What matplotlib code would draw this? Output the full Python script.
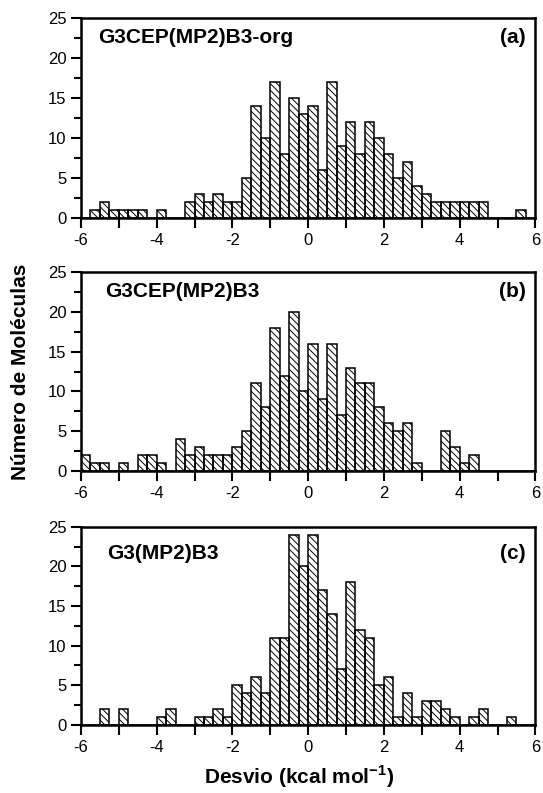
import numpy as np
import matplotlib
matplotlib.use('Agg')
import matplotlib.pyplot as plt
from matplotlib.ticker import MultipleLocator

plt.rcParams['font.family'] = ['Liberation Sans', 'DejaVu Sans']
plt.rcParams['hatch.linewidth'] = 0.7
plt.rcParams['axes.unicode_minus'] = False
plt.rcParams['mathtext.fontset'] = 'custom'
plt.rcParams['mathtext.rm'] = 'Liberation Sans'
plt.rcParams['mathtext.bf'] = 'Liberation Sans:bold'

# histogram bins: width 0.25 from -6 to 6
bin_edges = np.arange(-6, 6.001, 0.25)

counts_a = [0, 1, 2, 1, 1, 1, 1, 0, 1, 0, 0, 2, 3, 2, 3, 2, 2, 5, 14, 10, 17, 8, 15, 13,
            14, 6, 17, 9, 12, 8, 12, 10, 8, 5, 7, 4, 3, 2, 2, 2, 2, 2, 2, 0, 0, 0, 1, 0]
counts_b = [2, 1, 1, 0, 1, 0, 2, 2, 1, 0, 4, 2, 3, 2, 2, 2, 3, 5, 11, 8, 18, 12, 20, 10,
            16, 9, 16, 7, 13, 11, 11, 8, 6, 5, 6, 1, 0, 0, 5, 3, 1, 2, 0, 0, 0, 0, 0, 0]
counts_c = [0, 0, 2, 0, 2, 0, 0, 0, 1, 2, 0, 0, 1, 1, 2, 1, 5, 4, 6, 4, 11, 11, 24, 20,
            24, 17, 14, 7, 18, 12, 11, 5, 6, 1, 4, 1, 3, 3, 2, 1, 0, 1, 2, 0, 0, 1, 0, 0]

titles = ['G3CEP(MP2)B3-org', 'G3CEP(MP2)B3', 'G3(MP2)B3']
tags = ['(a)', '(b)', '(c)']
all_counts = [counts_a, counts_b, counts_c]

fig = plt.figure(figsize=(5.43, 7.93), dpi=100)

# axes rectangles in figure fractions
rects = [[0.149, 0.725, 0.837, 0.252],
         [0.149, 0.406, 0.837, 0.251],
         [0.149, 0.0858, 0.837, 0.250]]
title_pos = [(0.037, 0.877), (0.053, 0.875), (0.057, 0.835)]

for i in range(3):
    ax = fig.add_axes(rects[i])
    ax.bar(bin_edges[:-1], all_counts[i], width=0.25, align='edge',
           fill=False, edgecolor='black', linewidth=1.1, hatch='\\\\\\\\\\')
    ax.set_xlim(-6, 6)
    ax.set_ylim(0, 25)
    ax.xaxis.set_major_locator(MultipleLocator(2))
    ax.xaxis.set_minor_locator(MultipleLocator(1))
    ax.yaxis.set_major_locator(MultipleLocator(5))
    ax.yaxis.set_minor_locator(MultipleLocator(2.5))
    ax.tick_params(which='major', direction='out', length=7, width=1.5, labelsize=12)
    ax.tick_params(which='minor', direction='out', length=5, width=1.5)
    ax.tick_params(axis='x', which='minor', length=7)
    for s in ax.spines.values():
        s.set_linewidth(1.8)
    ax.text(title_pos[i][0], title_pos[i][1], titles[i], transform=ax.transAxes,
            fontsize=15, fontweight='bold', ha='left', va='baseline')
    ax.text(0.978, title_pos[i][1], tags[i], transform=ax.transAxes,
            fontsize=15, fontweight='bold', ha='right', va='baseline')

fig.text(0.037, 0.531, 'Número de Moléculas', rotation=90, fontsize=15,
         fontweight='bold', ha='center', va='center')
fig.text(0.55, 0.021, 'Desvio (kcal mol$^{\\mathbf{-1}}$)', fontsize=15,
         fontweight='bold', ha='center', va='center')

fig.savefig('out.png', dpi=100)
